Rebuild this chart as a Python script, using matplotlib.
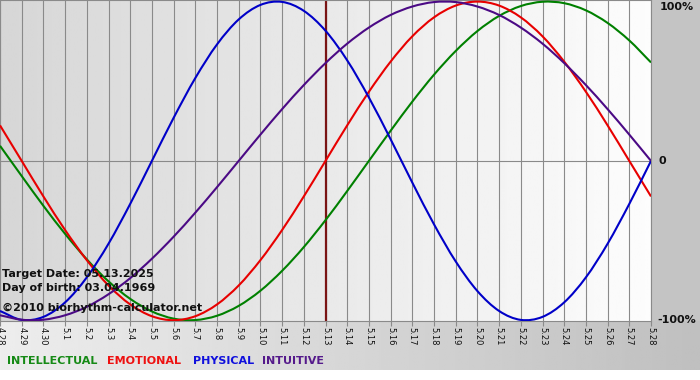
import numpy as np
import matplotlib
matplotlib.use("Agg")
import matplotlib.pyplot as plt
from matplotlib.patches import Rectangle, PathPatch
from matplotlib.path import Path

# day labels, 4.28 .. 5.28
days = ["4.28", "4.29", "4.30", "5.1", "5.2", "5.3", "5.4", "5.5", "5.6", "5.7",
        "5.8", "5.9", "5.10", "5.11", "5.12", "5.13", "5.14", "5.15", "5.16", "5.17",
        "5.18", "5.19", "5.20", "5.21", "5.22", "5.23", "5.24", "5.25", "5.26", "5.27",
        "5.28"]
target_idx = 15  # 5.13

# cycle values in percent, one per day
physical = [-94.2, -99.8, -97.9, -88.8, -73.1, -52.0, -27.0, 0, 27.0, 52.0, 73.1,
            88.8, 97.9, 99.8, 94.2, 81.7, 63.1, 39.8, 13.6, -13.6, -39.8, -63.1,
            -81.7, -94.2, -99.8, -97.9, -88.8, -73.1, -52.0, -27.0, 0]
emotional = [22.3, 0, -22.3, -43.4, -62.3, -78.2, -90.1, -97.5, -100, -97.5, -90.1,
             -78.2, -62.3, -43.4, -22.3, 0, 22.3, 43.4, 62.3, 78.2, 90.1, 97.5, 100,
             97.5, 90.1, 78.2, 62.3, 43.4, 22.3, 0, -22.3]
intellectual = [9.5, -9.5, -28.2, -45.8, -61.8, -75.6, -86.6, -94.5, -99.0, -99.9,
                -97.2, -91.0, -81.5, -69.0, -54.1, -37.2, -18.9, 0, 18.9, 37.2, 54.1,
                69.0, 81.5, 91.0, 97.2, 99.9, 99.0, 94.5, 86.6, 75.6, 61.8]
intuitive = [-96.9, -99.7, -99.7, -96.9, -91.6, -83.7, -73.6, -61.4, -47.6, -32.5,
             -16.5, 0, 16.5, 32.5, 47.6, 61.4, 73.6, 83.7, 91.6, 96.9, 99.7, 99.7,
             96.9, 91.6, 83.7, 73.6, 61.4, 47.6, 32.5, 16.5, 0]

series = [
    ("INTELLECTUAL", intellectual, "#008000", "#168a16"),
    ("EMOTIONAL", emotional, "#e80000", "#ee1010"),
    ("PHYSICAL", physical, "#0000c8", "#1010dd"),
    ("INTUITIVE", intuitive, "#4b0a85", "#551a8b"),
]


def smooth_path(xs, ys):
    # catmull-rom through the points, drawn as cubic bezier segments
    pts = np.column_stack([xs, ys]).astype(float)
    ext = np.vstack([2 * pts[0] - pts[1], pts, 2 * pts[-1] - pts[-2]])
    verts = [pts[0]]
    codes = [Path.MOVETO]
    for i in range(1, len(ext) - 2):
        p0, p1, p2, p3 = ext[i - 1], ext[i], ext[i + 1], ext[i + 2]
        verts += [p1 + (p2 - p0) / 6, p2 - (p3 - p1) / 6, p2]
        codes += [Path.CURVE4] * 3
    return Path(verts, codes)


W, H = 700, 380
plot_r, plot_b = 651, 321

fig = plt.figure(figsize=(7, 3.8), dpi=100, facecolor="white")

# background strips
bg = fig.add_axes([0, 0, 1, 1])
bg.axis("off")
grad = np.linspace(0.93, 0.75, 256).reshape(1, -1)
bg.imshow(grad, extent=[0, W, 370, plot_b], cmap="gray", vmin=0, vmax=1, aspect="auto")
bg.add_patch(Rectangle((plot_r, 0), W - plot_r, plot_b, color="#c4c4c4", lw=0))
bg.set_xlim(0, W)
bg.set_ylim(H, 0)

ax = fig.add_axes([0, (H - plot_b) / H, plot_r / W, plot_b / H])
ax.set_facecolor("none")
pgrad = np.linspace(0.84, 0.99, 256).reshape(1, -1)
ax.imshow(pgrad, extent=[0, 1, 0, 1], transform=ax.transAxes, cmap="gray",
          vmin=0, vmax=1, aspect="auto", zorder=0)

x = np.arange(len(days))
for xi in x:
    ax.axvline(xi, color="#8a8a8a", lw=0.8, zorder=1)
ax.axhline(0, color="#8a8a8a", lw=0.8, zorder=1)
ax.axvline(target_idx, color="#7a1414", lw=1.6, zorder=2)

for name, vals, col, _ in series:
    ax.add_patch(PathPatch(smooth_path(x, vals), facecolor="none", edgecolor=col,
                           lw=1.5, zorder=3))

ax.set_xlim(0, len(days) - 1)
ax.set_ylim(-100.5, 101)
ax.set_xticks(x)
ax.set_xticklabels(days, rotation=270, fontsize=6, color="#111111")
ax.tick_params(axis="x", length=3.6, width=0.8, color="#8a8a8a", pad=1)
ax.set_yticks([])
for s in ax.spines.values():
    s.set_color("#8a8a8a")
    s.set_linewidth(0.8)

# right side percent labels
tr = ax.get_yaxis_transform()
ax.text(1.014, 100, "100%", transform=tr, fontsize=8, fontweight="bold",
        va="top", ha="left", color="#111111", clip_on=False)
ax.text(1.011, 0, "0", transform=tr, fontsize=8, fontweight="bold",
        va="center", ha="left", color="#111111", clip_on=False)
ax.text(1.010, -100, "-100%", transform=tr, fontsize=8, fontweight="bold",
        va="center", ha="left", color="#111111", clip_on=False)

# info text inside plot
info = ["Target Date: 05.13.2025", "Day of birth: 03.04.1969", "\u00a92010 biorhythm-calculator.net"]
baselines = [277, 291, 311]
for txt, yb in zip(info, baselines):
    fig.text(2 / W, 1 - yb / H, txt, fontsize=8, fontweight="bold", color="#111111",
             va="baseline", ha="left", zorder=5)

# legend row
leg_x = [7, 107, 193, 262]
for (name, _, _, lcol), lx in zip(series, leg_x):
    fig.text(lx / W, 1 - 361 / H, name, fontsize=8, fontweight="bold", color=lcol,
             va="center", ha="left")

fig.savefig("out.png", dpi=100, facecolor="white")
